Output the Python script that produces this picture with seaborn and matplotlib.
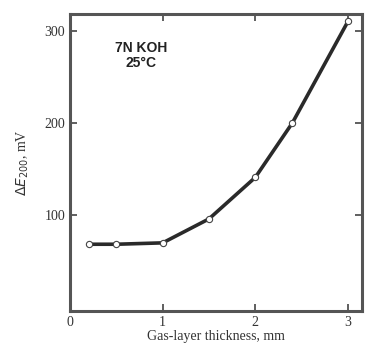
import matplotlib
matplotlib.use("Agg")
import matplotlib.pyplot as plt
import pandas as pd
import seaborn as sns

# Data
thickness = [0.2, 0.5, 1.0, 1.5, 2.0, 2.4, 3.0]
delta_e = [68.5, 68.5, 70, 96, 141, 200, 310]
x_ticks = [0, 1, 2, 3]
y_ticks = [100, 200, 300]

df = pd.DataFrame({"thickness": thickness, "delta_e": delta_e})

sns.set_style("ticks")
plt.rcParams["font.family"] = ["Liberation Serif", "DejaVu Serif"]

fig = plt.figure(figsize=(3.67, 3.5), dpi=100)
ax = fig.add_axes([0.191, 0.111, 0.795, 0.849])

sns.lineplot(data=df, x="thickness", y="delta_e", ax=ax, color="#2a2a2a",
             linewidth=2.6, marker="o", markersize=4.5,
             markerfacecolor="white", markeredgecolor="#444444",
             markeredgewidth=0.8)

ax.set_xlim(0, 3.15)
ax.set_ylim(-4, 318)
ax.set_xticks(x_ticks)
ax.set_yticks(y_ticks)
ax.tick_params(direction="in", top=True, right=True, length=5, width=1.2,
               color="#444444", labelsize=10, labelcolor="#333333")
for s in ax.spines.values():
    s.set_linewidth(2.2)
    s.set_color("#555555")

ax.set_xlabel("Gas-layer thickness, mm", fontsize=10, color="#333333", labelpad=1)
ax.set_ylabel(r"$\Delta E_{200}$, mV", fontsize=10, color="#333333", labelpad=10)

ax.text(0.77, 289, "7N KOH\n25°C", ha="center", va="top", fontsize=10,
        fontweight="bold", color="#222222", family=["Liberation Sans", "DejaVu Sans"],
        linespacing=1.1)

fig.savefig("out.png", dpi=100)
